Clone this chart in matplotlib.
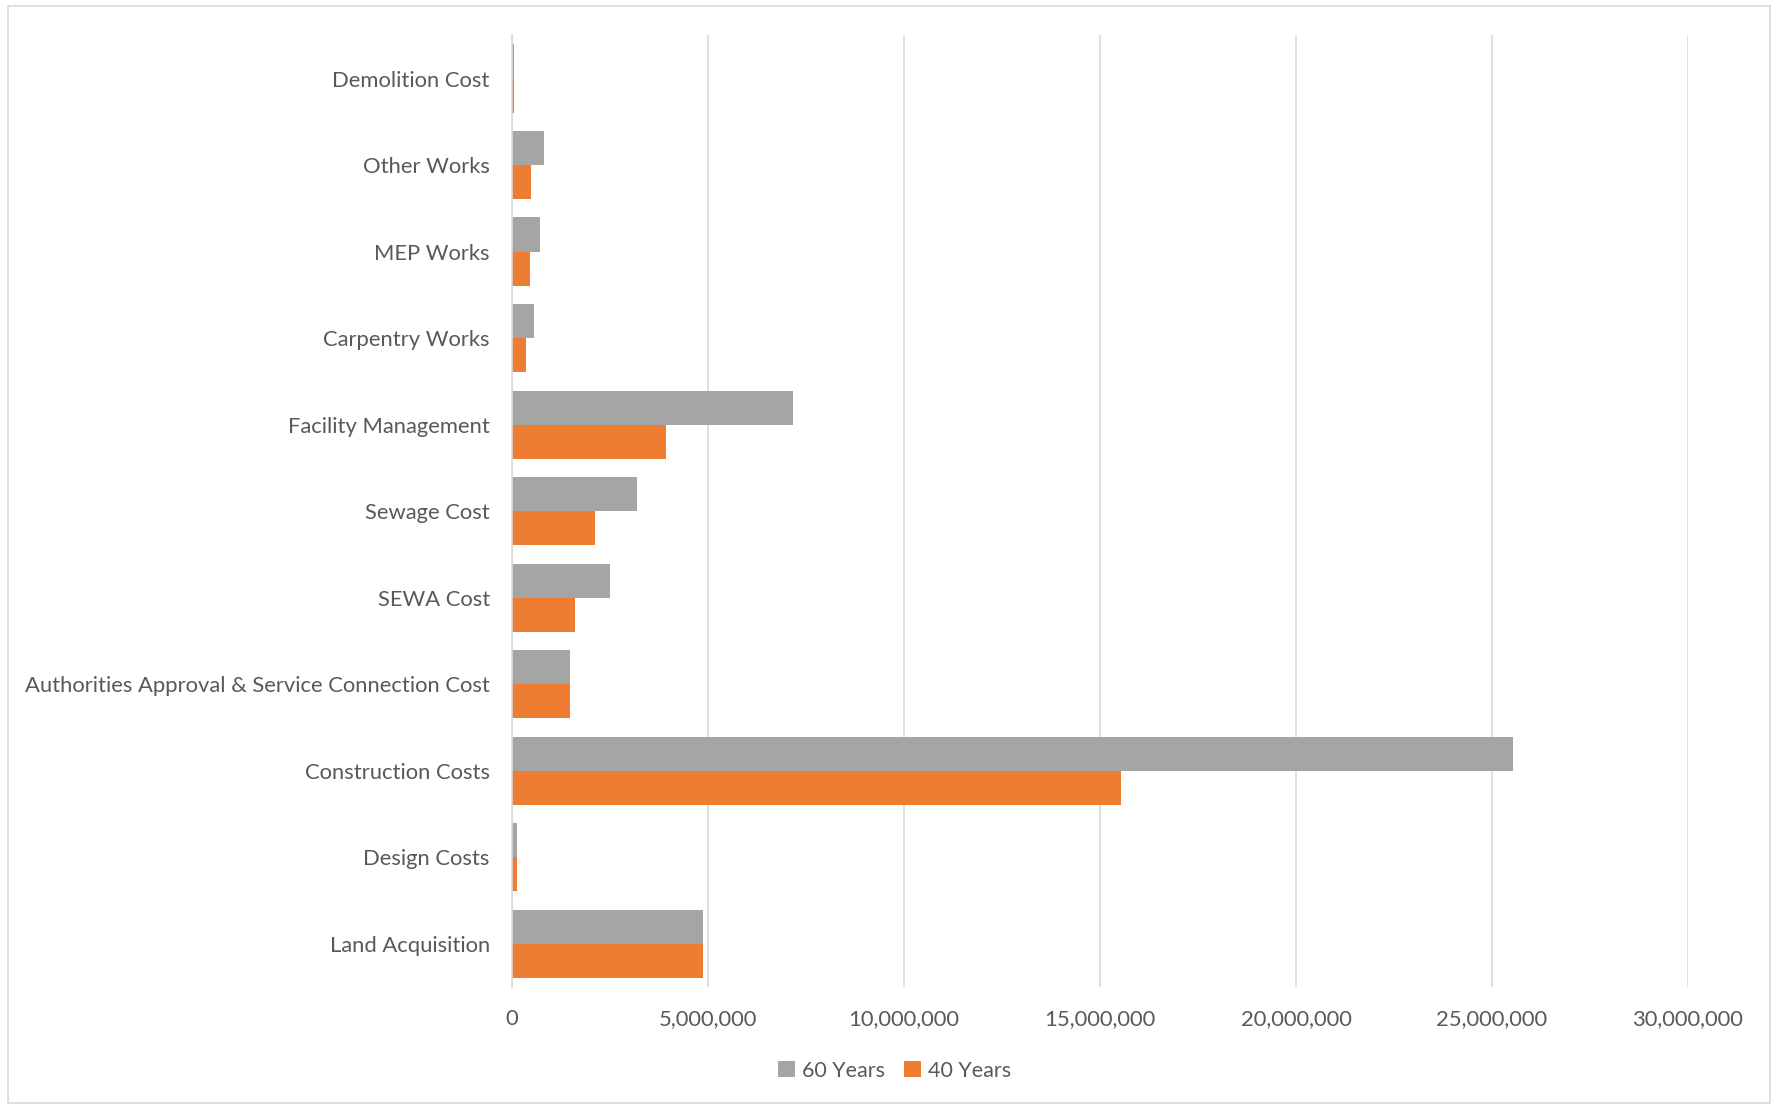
import numpy as np
import matplotlib.pyplot as plt
from matplotlib.patches import Rectangle

categories = ['Land Acquisition', 'Design Costs', 'Construction Costs',
              'Authorities Approval & Service Connection Cost', 'SEWA Cost',
              'Sewage Cost', 'Facility Management', 'Carpentry Works',
              'MEP Works', 'Other Works', 'Demolition Cost']
years60 = [4870000, 130000, 25550000, 1480000, 2500000, 3200000, 7160000,
           560000, 710000, 820000, 50000]
years40 = [4870000, 130000, 15540000, 1480000, 1610000, 2120000, 3920000,
           360000, 460000, 490000, 50000]
xticks = [0, 5000000, 10000000, 15000000, 20000000, 25000000, 30000000]

plt.rcParams['font.family'] = ['Lato', 'DejaVu Sans']
txt = '#595959'

fig = plt.figure(figsize=(17.79, 11.06), dpi=100)
ax = fig.add_axes([0.2878, 0.1076, 0.9488 - 0.2878, 0.968 - 0.1076])

y = np.arange(len(categories))
h = 0.395
ax.barh(y + h / 2, years60, height=h, color='#A5A5A5', label='60 Years')
ax.barh(y - h / 2, years40, height=h, color='#ED7D31', label='40 Years')

ax.set_xlim(0, 30000000)
ax.set_ylim(-0.5, len(categories) - 0.5)
ax.set_xticks(xticks)
ax.set_xticklabels(['{:,}'.format(v) for v in xticks])
ax.set_yticks(y)
ax.set_yticklabels(categories)
ax.tick_params(length=0, labelsize=15.8, colors=txt)
ax.tick_params(axis='x', pad=16)
ax.tick_params(axis='y', pad=16)
ax.xaxis.grid(True, color='#d9d9d9', linewidth=1.2)
ax.set_axisbelow(True)
for s in ['top', 'right', 'bottom']:
    ax.spines[s].set_visible(False)
ax.spines['left'].set_color('#d9d9d9')
ax.spines['left'].set_linewidth(1.2)

fig.legend(loc='center', bbox_to_anchor=(0.503, 0.032), ncol=2, frameon=False,
           fontsize=15.5, labelcolor=txt, handlelength=0.75, handleheight=0.75,
           handletextpad=0.35, columnspacing=0.9)

fig.patches.append(Rectangle((0.0045, 0.003), 0.9905, 0.9915, transform=fig.transFigure,
                             fill=False, edgecolor='#d9d9d9', linewidth=1.2))

plt.savefig('out.png', dpi=100)
